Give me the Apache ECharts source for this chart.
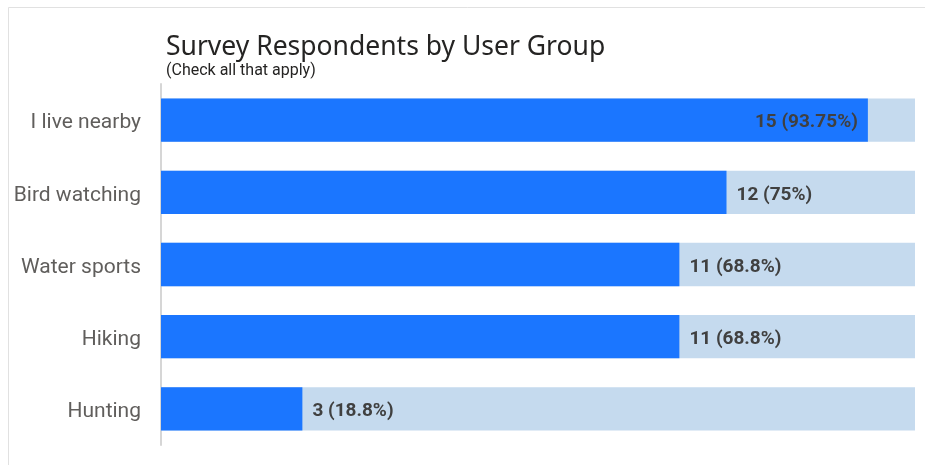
<!DOCTYPE html>
<html>
<head>
<meta charset="utf-8">
<script src="https://cdn.jsdelivr.net/npm/echarts@6/dist/echarts.min.js"></script>
<style>
  html, body { margin: 0; padding: 0; background: #fff; }
  #chart { width: 925px; height: 465px; }
</style>
</head>
<body>
<div id="chart"></div>
<script>
// Respondents per user group (multiple answers allowed), out of 16 respondents
const groups = ['I live nearby', 'Bird watching', 'Water sports', 'Hiking', 'Hunting'];
const counts = [15, 12, 11, 11, 3];
const percents = ['93.75%', '75%', '68.8%', '68.8%', '18.8%'];
const totalRespondents = 16;

const FONT = 'Roboto, "Noto Sans", sans-serif';
const TITLE_FONT = '"Noto Sans", Roboto, sans-serif';

const chart = echarts.init(document.getElementById('chart'), null, { renderer: 'canvas' });

chart.setOption({
  animation: false,
  backgroundColor: '#ffffff',
  textStyle: { fontFamily: FONT },
  graphic: [{
    type: 'rect',
    shape: { x: 8.5, y: 7.5, width: 960, height: 500 },
    style: { fill: 'none', stroke: '#e1e1e1', lineWidth: 1 },
    silent: true,
    z: -10
  }],
  title: {
    text: 'Survey Respondents by User Group',
    subtext: '(Check all that apply)',
    left: 166,
    top: 34,
    itemGap: 2,
    padding: 0,
    textStyle: { fontFamily: TITLE_FONT, fontSize: 26.5, fontWeight: 'normal', color: '#252423' },
    subtextStyle: { fontFamily: FONT, fontSize: 16, color: '#252423' }
  },
  grid: { left: 161, right: 10, top: 84, bottom: 20, containLabel: false },
  xAxis: {
    type: 'value',
    min: 0,
    max: totalRespondents,
    show: false
  },
  yAxis: {
    type: 'category',
    data: groups,
    inverse: true,
    axisLine: { show: true, lineStyle: { color: '#d6d6d6', width: 2 } },
    axisTick: { show: false },
    axisLabel: {
      margin: 20,
      formatter: v => '{c|' + v + '}',
      rich: {
        c: { fontFamily: FONT, fontSize: 21, color: '#605e5c', padding: [6, 0, 0, 0] }
      }
    }
  },
  series: [{
    type: 'bar',
    data: counts.map((v, i) => {
      const inside = v / totalRespondents > 0.85;
      return {
        value: v,
        label: inside
          ? { position: 'insideRight', distance: 10 }
          : { position: 'right', distance: 10 }
      };
    }),
    barWidth: '60%',
    itemStyle: { color: '#1b76ff' },
    showBackground: true,
    backgroundStyle: { color: '#c5daee' },
    label: {
      show: true,
      formatter: p => '{v|' + counts[p.dataIndex] + ' (' + percents[p.dataIndex] + ')}',
      rich: {
        v: { fontFamily: FONT, fontSize: 19, fontWeight: 'bold', color: '#404040', padding: [5, 0, 0, 0] }
      }
    }
  }]
});
</script>
</body>
</html>
